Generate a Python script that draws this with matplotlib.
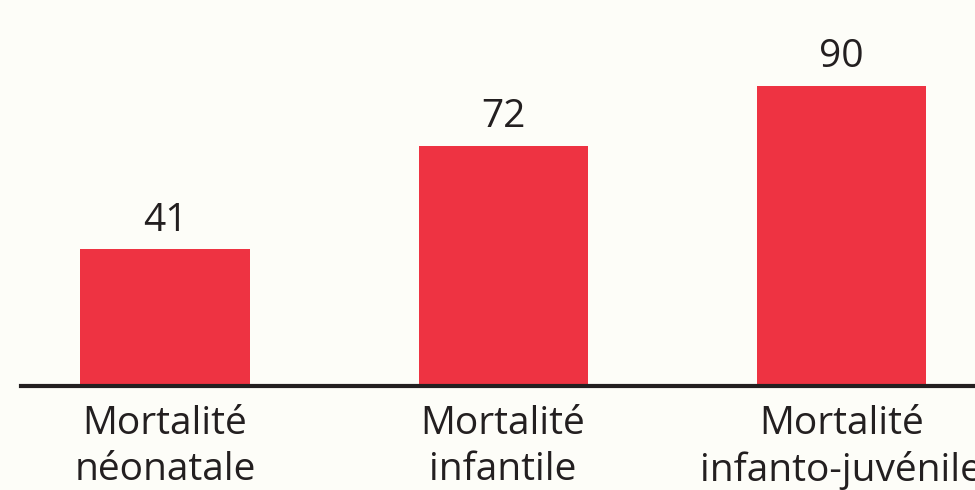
import matplotlib.pyplot as plt

categories = ["Mortalité\nnéonatale", "Mortalité\ninfantile", "Mortalité\ninfanto-juvénile"]
values = [41, 72, 90]

plt.rcParams['font.family'] = ['Open Sans', 'DejaVu Sans']

fig = plt.figure(figsize=(9.75, 4.9), dpi=100, facecolor="#fdfdf8")
# axes: baseline 104 px from bottom, from x=21 px to the right edge
ax = fig.add_axes([21 / 975, 104 / 490, 954 / 975, 386 / 490])
ax.set_facecolor("#fdfdf8")

x = range(len(values))
bars = ax.bar(x, values, width=0.5, color="#ee3342")

# value labels above the bars
for b, v in zip(bars, values):
    ax.annotate(str(v), (b.get_x() + b.get_width() / 2, v),
                xytext=(0, 7), textcoords="offset points",
                ha="center", va="bottom", fontsize=28, color="#231f20")

ax.set_xlim(-0.426, 2.396)
ax.set_ylim(0, 115.8)

ax.set_xticks(list(x))
ax.set_xticklabels(categories, fontsize=28, color="#231f20", linespacing=1.25)
ax.tick_params(axis="x", length=0, pad=14)
ax.set_yticks([])

for s in ["top", "right", "left"]:
    ax.spines[s].set_visible(False)
ax.spines["bottom"].set_linewidth(3)
ax.spines["bottom"].set_color("#231f20")

fig.savefig("out.png", dpi=100, facecolor=fig.get_facecolor())
